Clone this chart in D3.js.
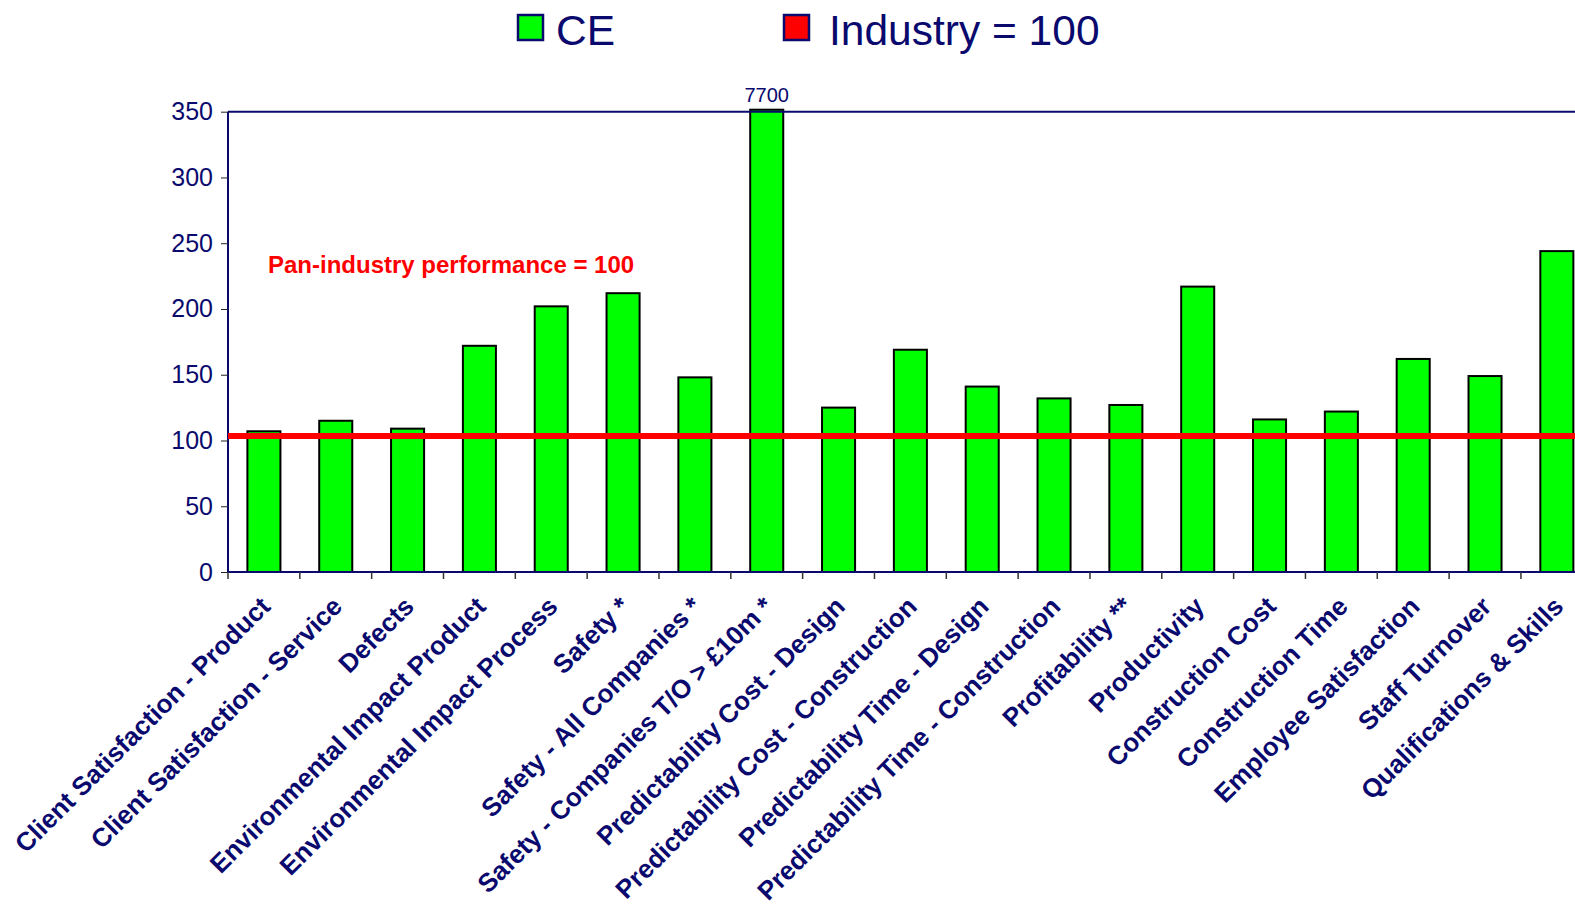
<!DOCTYPE html>
<html>
<head>
<meta charset="utf-8">
<script src="https://cdn.jsdelivr.net/npm/d3@7"></script>
<style>
  body { margin: 0; background: #fff; }
  svg { display: block; font-family: "Liberation Sans", Arial, sans-serif; }
</style>
</head>
<body>
<div id="chart"></div>
<script>
var w = 1575;
var h = 904;

var categories = [
  "Client Satisfaction - Product",
  "Client Satisfaction - Service",
  "Defects",
  "Environmental Impact Product",
  "Environmental Impact Process",
  "Safety *",
  "Safety - All Companies *",
  "Safety - Companies T/O > £10m *",
  "Predictability Cost - Design",
  "Predictability Cost - Construction",
  "Predictability Time - Design",
  "Predictability Time - Construction",
  "Profitability **",
  "Productivity",
  "Construction Cost",
  "Construction Time",
  "Employee Satisfaction",
  "Staff Turnover",
  "Qualifications & Skills"
];
var ceValues = [107, 115, 109, 172, 202, 212, 148, 7700, 125, 169, 141, 132, 127, 217, 116, 122, 162, 149, 244];
var industryLevel = 103.5; // red line as drawn in the picture ("Industry = 100")
var yTicks = [0, 50, 100, 150, 200, 250, 300, 350];
var yMax = 350;

var navy = "#0a0a6e";
var plotLeft = 228, plotTop = 111.7, plotBottom = 572;
var step = 71.83;
var plotRight = plotLeft + categories.length * step;

var svg = d3.select("#chart").append("svg").attr("width", w).attr("height", h);

var x = d3.scaleBand().domain(categories).range([plotLeft, plotRight]).paddingInner(0.54).paddingOuter(0.27);
var y = d3.scaleLinear().domain([0, yMax]).range([plotBottom, plotTop]);

// legend
var legend = [
  { name: "CE", color: "#00ff00", sx: 518, tx: 556 },
  { name: "Industry = 100", color: "#ff0000", sx: 784, tx: 829 }
];
legend.forEach(function (d) {
  svg.append("rect").attr("x", d.sx).attr("y", 15).attr("width", 25).attr("height", 25)
    .attr("fill", d.color).attr("stroke", navy).attr("stroke-width", 2.5);
  svg.append("text").attr("x", d.tx).attr("y", 45).text(d.name)
    .attr("font-size", "42.5px").attr("fill", navy);
});

function barTop(d) {
  return d > yMax ? y(yMax) - 2 : y(d);
}

// bars
svg.selectAll("rect.bar")
  .data(ceValues)
  .enter()
  .append("rect")
  .attr("class", "bar")
  .attr("x", function (d, i) { return x(categories[i]); })
  .attr("y", barTop)
  .attr("width", x.bandwidth())
  .attr("height", function (d) { return plotBottom - barTop(d); })
  .attr("fill", "#00ff00")
  .attr("stroke", "#000")
  .attr("stroke-width", 2);

// value label for the clipped bar
svg.selectAll("text.over")
  .data(ceValues.filter(function (d) { return d > yMax; }))
  .enter()
  .append("text")
  .attr("class", "over")
  .attr("x", function (d) { return x(categories[ceValues.indexOf(d)]) + x.bandwidth() / 2; })
  .attr("y", plotTop - 10)
  .attr("text-anchor", "middle")
  .attr("font-size", "20px")
  .attr("fill", navy)
  .text(function (d) { return d; });

// frame: top, left
svg.append("line").attr("x1", plotLeft).attr("x2", plotRight).attr("y1", plotTop).attr("y2", plotTop)
  .attr("stroke", navy).attr("stroke-width", 2);
svg.append("line").attr("x1", plotLeft).attr("x2", plotLeft).attr("y1", plotTop).attr("y2", plotBottom)
  .attr("stroke", navy).attr("stroke-width", 2);

// industry line
svg.append("line")
  .attr("x1", plotLeft).attr("x2", w)
  .attr("y1", y(industryLevel)).attr("y2", y(industryLevel))
  .attr("stroke", "#ff0000").attr("stroke-width", 6);

svg.append("text")
  .attr("x", 268).attr("y", 273)
  .attr("font-size", "24px").attr("font-weight", "bold").attr("fill", "#ff0000")
  .text("Pan-industry performance = 100");

// y axis
var yAxis = svg.append("g").attr("transform", "translate(" + plotLeft + ",0)")
  .call(d3.axisLeft(y).tickValues(yTicks).tickSize(7).tickPadding(8));
yAxis.select(".domain").remove();
yAxis.selectAll("line").attr("stroke", "#222");
yAxis.selectAll("text").attr("font-size", "25px").attr("fill", navy)
  .attr("font-family", "Liberation Sans, Arial, sans-serif");

// x axis
svg.append("line").attr("x1", plotLeft).attr("x2", plotRight).attr("y1", plotBottom).attr("y2", plotBottom)
  .attr("stroke", navy).attr("stroke-width", 2);
svg.selectAll("line.xtick")
  .data(d3.range(categories.length + 1))
  .enter()
  .append("line")
  .attr("class", "xtick")
  .attr("x1", function (i) { return plotLeft + i * step; })
  .attr("x2", function (i) { return plotLeft + i * step; })
  .attr("y1", plotBottom).attr("y2", plotBottom + 7)
  .attr("stroke", "#333").attr("stroke-width", 1.5);

var xAxis = svg.append("g").attr("transform", "translate(0," + plotBottom + ")")
  .call(d3.axisBottom(x).tickSize(0).tickPadding(0));
xAxis.select(".domain").remove();
xAxis.selectAll("text")
  .attr("font-size", "26px")
  .attr("font-weight", "bold")
  .attr("fill", navy)
  .attr("font-family", "Liberation Sans, Arial, sans-serif")
  .attr("text-anchor", "end")
  .attr("dy", 0)
  .attr("transform", "translate(8,36) rotate(-45)");
</script>
</body>
</html>
